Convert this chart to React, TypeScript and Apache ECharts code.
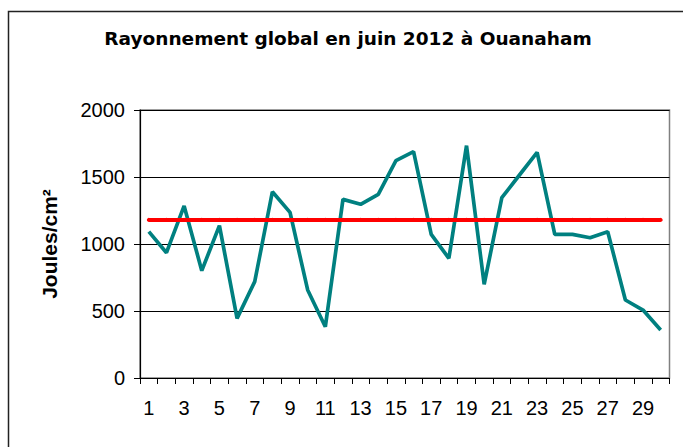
import React, { useEffect, useRef } from "react";
import * as echarts from "echarts";

const titleText = "Rayonnement global en juin 2012 à Ouanaham";
const yAxisName = "Joules/cm²";
const days = Array.from({ length: 30 }, (_, i) => String(i + 1));
const dailyRadiation = [
  1092, 935, 1284, 801, 1137, 445, 719, 1390, 1236, 657,
  383, 1333, 1296, 1371, 1622, 1689, 1072, 893, 1734, 699,
  1346, 1515, 1684, 1072, 1072, 1047, 1092, 582, 507, 358,
];
const referenceLine = [
  1180, 1180, 1180, 1180, 1180, 1180, 1180, 1180, 1180, 1180,
  1180, 1180, 1180, 1180, 1180, 1180, 1180, 1180, 1180, 1180,
  1180, 1180, 1180, 1180, 1180, 1180, 1180, 1180, 1180, 1180,
];
const yMin = 0;
const yMax = 2000;
const yInterval = 500;

export default function App() {
  const ref = useRef<HTMLDivElement>(null);
  useEffect(() => {
    if (!ref.current) return;
    const chart = echarts.init(ref.current, undefined, { renderer: "svg" });
    chart.setOption({
      animation: false,
      backgroundColor: "#ffffff",
      title: {
        text: titleText,
        left: 343,
        textAlign: "center",
        top: 24,
        textStyle: {
          fontFamily: "DejaVu Sans",
          fontWeight: "bold",
          fontSize: 18.5,
          color: "#000000",
        },
      },
      graphic: [
        {
          type: "polyline",
          shape: { points: [[8.5, 460], [8.5, 11.5], [700, 11.5]] },
          style: { stroke: "#222222", lineWidth: 1.5, fill: "none" },
          silent: true,
        },
      ],
      grid: {
        left: 140,
        right: 13.5,
        top: 110,
        bottom: 69,
        show: true,
        borderColor: "#808080",
        borderWidth: 1.5,
        backgroundColor: "transparent",
      },
      xAxis: {
        type: "category",
        data: days,
        boundaryGap: true,
        axisLine: { show: true, lineStyle: { color: "#000000", width: 1.2 } },
        axisTick: {
          show: true,
          alignWithLabel: false,
          interval: 0,
          length: 6,
          lineStyle: { color: "#000000", width: 1 },
        },
        axisLabel: {
          interval: 1,
          margin: 20,
          fontFamily: "Liberation Sans",
          fontSize: 20,
          color: "#000000",
        },
        splitLine: { show: false },
      },
      yAxis: {
        type: "value",
        min: yMin,
        max: yMax,
        interval: yInterval,
        name: yAxisName,
        nameLocation: "middle",
        nameGap: 80,
        nameTextStyle: {
          fontFamily: "Liberation Sans",
          fontWeight: "bold",
          fontSize: 21,
          color: "#000000",
        },
        axisLine: { show: true, lineStyle: { color: "#000000", width: 1.2 } },
        axisTick: { show: true, length: 6, lineStyle: { color: "#000000" } },
        axisLabel: {
          margin: 15,
          formatter: (v: number) => String(v),
          fontFamily: "Liberation Sans",
          fontSize: 20,
          color: "#000000",
        },
        splitLine: { show: true, lineStyle: { color: "#000000", width: 1 } },
      },
      series: [
        {
          type: "line",
          data: dailyRadiation,
          showSymbol: false,
          lineStyle: { color: "#008080", width: 3.7 },
          itemStyle: { color: "#008080" },
          z: 2,
        },
        {
          type: "line",
          data: referenceLine,
          symbol: "circle",
          symbolSize: 4,
          showSymbol: true,
          lineStyle: { color: "#FF0000", width: 4 },
          itemStyle: { color: "#FF0000" },
          z: 3,
        },
      ],
    });
    return () => chart.dispose();
  }, []);
  return (
    <div
      ref={ref}
      style={{ position: "fixed", left: 0, top: 0, width: 683, height: 447 }}
    />
  );
}
